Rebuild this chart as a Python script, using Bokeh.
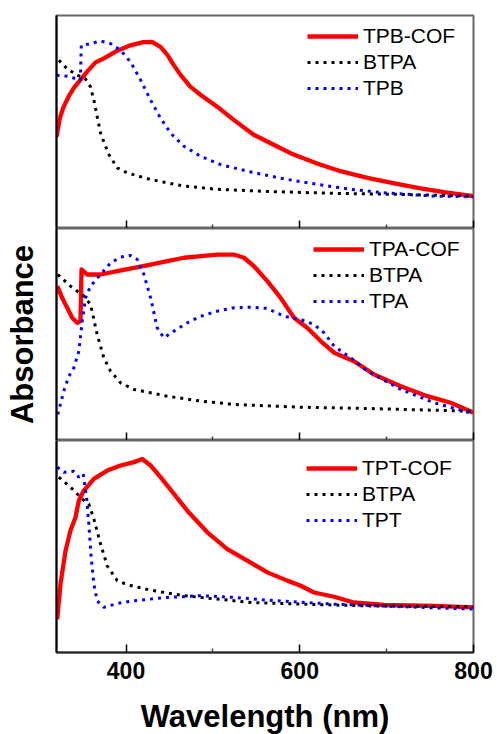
from bokeh.plotting import figure
from bokeh.layouts import column
from bokeh.models import Range1d, FixedTicker, CustomLabelingPolicy
from bokeh.embed import file_html
from bokeh.resources import INLINE

# ---------------- data (wavelength nm, normalised absorbance) ----------------
# Panel 1
tpb_cof_x = [320, 324, 328, 334, 340, 348, 356, 365, 375, 390, 405, 420, 430, 440, 448, 455, 463, 474, 486,
             505, 524, 547, 570, 593, 620, 647, 678, 709, 739, 770, 800]
tpb_cof_y = [0.43, 0.52, 0.57, 0.62, 0.66, 0.70, 0.74, 0.78, 0.80, 0.835, 0.86, 0.875, 0.876, 0.852, 0.813,
             0.767, 0.72, 0.666, 0.627, 0.572, 0.510, 0.440, 0.393, 0.347, 0.305, 0.269, 0.238, 0.212, 0.188,
             0.168, 0.152]
btpa1_x = [322.7, 332, 343.8, 353, 359, 363, 366.8, 370.7, 376.4, 380.3, 389.9, 401.4, 428.3, 466.7, 505.1,
           562.7, 639.5, 716.3, 800]
btpa1_y = [0.79, 0.751, 0.72, 0.704, 0.666, 0.603, 0.526, 0.448, 0.386, 0.347, 0.285, 0.261, 0.230, 0.199,
           0.184, 0.174, 0.165, 0.160, 0.152]
tpb_x = [320, 332.3, 347.5, 348.5, 359.2, 370.7, 382.2, 393.7, 405.2, 416.8, 428.3, 439.8, 451.3, 466.7, 485.9,
         508.9, 539.6, 581.9, 620.3, 658.7, 696.1, 754.7, 800]
tpb_y = [0.72, 0.715, 0.697, 0.86, 0.868, 0.880, 0.868, 0.837, 0.782, 0.697, 0.603, 0.518, 0.448, 0.386, 0.339,
         0.300, 0.269, 0.233, 0.207, 0.184, 0.168, 0.152, 0.149]

# Panel 2
tpa_cof_x = [320.8, 326.5, 332.3, 338, 343.8, 347.6, 348.8, 355.3, 370.7, 389.9, 409.1, 428.3, 447.5, 466.7,
             485.9, 505.1, 524.3, 535.8, 547.3, 562.7, 578, 593.4, 608.8, 624.1, 639.5, 662.5, 685.6, 716.3,
             747, 773.9, 800]
tpa_cof_y = [0.728, 0.673, 0.626, 0.579, 0.555, 0.563, 0.807, 0.783, 0.783, 0.799, 0.814, 0.830, 0.846, 0.862,
             0.870, 0.877, 0.877, 0.862, 0.822, 0.752, 0.673, 0.579, 0.531, 0.469, 0.414, 0.374, 0.311, 0.256,
             0.209, 0.178, 0.131]
btpa2_x = [321.5, 336.1, 351.5, 359.2, 366.8, 374.5, 382.2, 393.7, 409.1, 447.5, 485.9, 524.3, 601.1, 677.9, 800]
btpa2_y = [0.783, 0.728, 0.681, 0.642, 0.5, 0.39, 0.327, 0.272, 0.241, 0.209, 0.186, 0.170, 0.157, 0.151, 0.138]
tpa_x = [321.5, 328.4, 334.2, 340, 345.7, 349.6, 353.4, 359.2, 370.7, 382.2, 393.7, 405.2, 412.9, 420.6, 428.3,
         436, 443.6, 455.2, 470.5, 485.9, 505.1, 524.3, 543.5, 562.7, 581.9, 601.1, 616.5, 628, 639.5, 658.7,
         677.9, 716.3, 754.7, 800]
tpa_y = [0.123, 0.233, 0.303, 0.343, 0.421, 0.563, 0.673, 0.728, 0.783, 0.838, 0.865, 0.873, 0.854, 0.783,
         0.673, 0.531, 0.484, 0.516, 0.555, 0.586, 0.610, 0.626, 0.629, 0.623, 0.586, 0.571, 0.547, 0.508,
         0.445, 0.39, 0.327, 0.241, 0.178, 0.126]

# Panel 3
tpt_cof_x = [320.8, 324.6, 330.4, 336.1, 341.9, 345.7, 351.5, 363, 378.4, 393.7, 409.1, 418.7, 428.3, 439.8,
             455.2, 470.5, 493.6, 516.6, 539.6, 562.7, 585.7, 601.1, 616.5, 639.5, 662.5, 697.1, 754.7, 800]
tpt_cof_y = [0.157, 0.323, 0.480, 0.575, 0.638, 0.717, 0.764, 0.819, 0.858, 0.882, 0.898, 0.913, 0.882, 0.827,
             0.748, 0.669, 0.567, 0.488, 0.433, 0.378, 0.339, 0.315, 0.283, 0.263, 0.236, 0.224, 0.220, 0.213]
btpa3_x = [322.7, 336.1, 349.6, 357.2, 363, 370.7, 378.4, 389.9, 401.4, 428.3, 466.7, 505.1, 543.5, 601.1,
           677.9, 800]
btpa3_y = [0.827, 0.780, 0.724, 0.70, 0.63, 0.512, 0.409, 0.339, 0.320, 0.294, 0.268, 0.252, 0.236, 0.228,
           0.220, 0.216]
tpt_x = [320.8, 328.4, 340, 345.7, 350.7, 354.6, 357.2, 359.9, 363, 366.8, 374.5, 389.9, 409.1, 447.5, 485.9,
         524.3, 562.7, 639.5, 716.3, 800]
tpt_y = [0.874, 0.850, 0.855, 0.827, 0.843, 0.732, 0.606, 0.449, 0.323, 0.244, 0.213, 0.231, 0.244, 0.260,
         0.268, 0.260, 0.247, 0.228, 0.216, 0.205]

x_major_ticks = [400, 600, 800]
x_minor_ticks = [500, 700]
x_tick_labels = {400: "400", 600: "600", 800: "800"}

FONT = "Liberation Sans"
DOT = "3 5"

hide_labels = CustomLabelingPolicy(code="""
for (const i of Array.from(indices)) { indices.unset(i) }
return indices
""")


def make_panel(cof, btpa, blue, names, frame_h, top, bottom, legend_loc, show_x=False, ylabel=None):
    p = figure(width=497, frame_width=417, frame_height=frame_h, output_backend="svg",
               toolbar_location=None, x_range=Range1d(320, 800), y_range=Range1d(0, 1))
    p.min_border = 0
    p.min_border_left = 56
    p.min_border_right = 24
    p.min_border_top = top
    p.min_border_bottom = bottom
    p.background_fill_color = "white"
    p.border_fill_color = "white"
    p.outline_line_color = "#666666"
    p.outline_line_width = 2
    p.grid.visible = False

    p.line(cof[0], cof[1], color="#FF0000", line_width=4.3, line_join="round", legend_label=names[0])
    p.line(btpa[0], btpa[1], color="black", line_width=3, line_dash=DOT, legend_label=names[1])
    p.line(blue[0], blue[1], color="#0000FF", line_width=3, line_dash=DOT, legend_label=names[2])

    xa = p.xaxis[0]
    xa.ticker = FixedTicker(ticks=x_major_ticks, minor_ticks=x_minor_ticks)
    xa.major_tick_in = 8
    xa.major_tick_out = 0
    xa.minor_tick_in = 4
    xa.minor_tick_out = 0
    xa.major_tick_line_color = "black"
    xa.major_tick_line_width = 1.5
    xa.minor_tick_line_color = "#444444"
    xa.minor_tick_line_width = 1.5
    if show_x:
        xa.axis_line_color = "#222222"
        xa.axis_line_width = 2
        xa.major_label_overrides = x_tick_labels
        xa.major_label_text_font = FONT
        xa.major_label_text_font_style = "bold"
        xa.major_label_text_font_size = "23px"
        xa.major_label_text_color = "black"
        xa.major_label_standoff = 9
        xa.axis_label = "Wavelength (nm)"
        xa.axis_label_text_font = FONT
        xa.axis_label_text_font_style = "bold"
        xa.axis_label_text_font_size = "31px"
        xa.axis_label_text_color = "black"
        xa.axis_label_standoff = 17
    else:
        xa.axis_line_color = None
        xa.major_label_policy = hide_labels
        xa.major_label_text_font_size = "0px"
        xa.major_label_standoff = 0

    ya = p.yaxis[0]
    ya.ticker = FixedTicker(ticks=[])
    ya.major_tick_in = 0
    ya.major_tick_out = 0
    ya.minor_tick_in = 0
    ya.minor_tick_out = 0
    ya.major_label_standoff = 0
    ya.major_label_text_font_size = "0px"
    ya.axis_line_color = "black"
    ya.axis_line_width = 2
    if ylabel:
        ya.axis_label = ylabel
        ya.axis_label_text_font = FONT
        ya.axis_label_text_font_style = "bold"
        ya.axis_label_text_font_size = "31px"
        ya.axis_label_text_color = "black"
        ya.axis_label_standoff = 17

    lg = p.legend[0]
    lg.location = legend_loc
    lg.padding = 0
    lg.margin = 0
    lg.spacing = 0
    lg.glyph_width = 51
    lg.glyph_height = 26
    lg.label_height = 26
    lg.label_standoff = 5
    lg.label_text_font = FONT
    lg.label_text_font_size = "21px"
    lg.label_text_color = "black"
    lg.border_line_color = None
    lg.background_fill_alpha = 0
    return p


p1 = make_panel((tpb_cof_x, tpb_cof_y), (btpa1_x, btpa1_y), (tpb_x, tpb_y),
                ["TPB-COF", "BTPA", "TPB"], 213, 15, 0, (251, 127))
p2 = make_panel((tpa_cof_x, tpa_cof_y), (btpa2_x, btpa2_y), (tpa_x, tpa_y),
                ["TPA-COF", "BTPA", "TPA"], 212, 0, 0, (257, 126), ylabel="Absorbance")
p3 = make_panel((tpt_cof_x, tpt_cof_y), (btpa3_x, btpa3_y), (tpt_x, tpt_y),
                ["TPT-COF", "BTPA", "TPT"], 212, 0, 82, (250, 119), show_x=True)

p = column(p1, p2, p3, spacing=0)

open("out.html", "w").write(file_html(p, INLINE))
